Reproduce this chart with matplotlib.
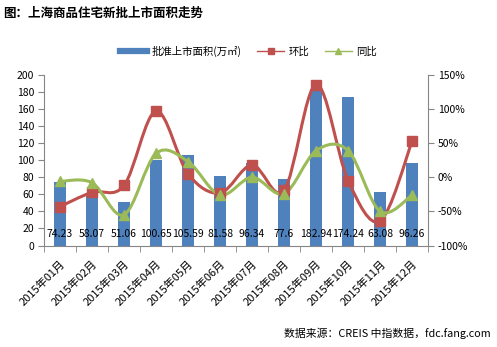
import numpy as np
import matplotlib
matplotlib.use("Agg")
import matplotlib.pyplot as plt
from matplotlib.path import Path
from matplotlib.patches import PathPatch
from matplotlib.lines import Line2D

plt.rcParams['font.family'] = ['Noto Sans CJK SC', 'DejaVu Sans']

months = ['2015年01月', '2015年02月', '2015年03月', '2015年04月', '2015年05月', '2015年06月',
          '2015年07月', '2015年08月', '2015年09月', '2015年10月', '2015年11月', '2015年12月']
area = [74.23, 58.07, 51.06, 100.65, 105.59, 81.58, 96.34, 77.6, 182.94, 174.24, 63.08, 96.26]
mom = [-43, -22, -12, 97, 5, -23, 18, -19, 136, -5, -64, 53]   # 环比 %
yoy = [-6, -8, -55, 35, 23, -26, 0, -24, 39, 39, -50, -26]     # 同比 %

BLUE = '#4F81BD'
RED = '#C0504D'
GREEN = '#9BBB59'


def smooth_path(xs, ys):
    # catmull-rom through the points, written as cubic bezier segments
    pts = np.column_stack([xs, ys]).astype(float)
    n = len(pts)
    verts = [pts[0]]
    codes = [Path.MOVETO]
    for i in range(n - 1):
        p0 = pts[i - 1] if i > 0 else pts[i]
        p1, p2 = pts[i], pts[i + 1]
        p3 = pts[i + 2] if i + 2 < n else pts[i + 1]
        c1 = p1 + (p2 - p0) / 6.0
        c2 = p2 - (p3 - p1) / 6.0
        verts += [c1, c2, p2]
        codes += [Path.CURVE4] * 3
    return Path(verts, codes)


fig = plt.figure(figsize=(4.97, 3.47), dpi=100)
ax = fig.add_axes([0.0885, 0.2925, 0.773, 0.4915])
ax2 = ax.twinx()

x = np.arange(len(months))
ax.bar(x, area, width=0.38, color=BLUE, zorder=2)
for xi, v in zip(x, area):
    ax.text(xi, 14, f'{v:g}', ha='center', va='center', fontsize=7.5, color='black', zorder=5)

for vals, color, marker, ms in [(mom, RED, 's', 6.5), (yoy, GREEN, '^', 7)]:
    ax2.add_patch(PathPatch(smooth_path(x, vals), facecolor='none', edgecolor=color,
                            lw=2.2, zorder=3))
    ax2.plot(x, vals, ls='none', marker=marker, ms=ms, color=color, zorder=4)

ax.set_xlim(-0.5, len(months) - 0.5)
ax.set_ylim(0, 200)
ax.set_yticks(range(0, 201, 20))
ax2.set_ylim(-100, 150)
ax2.set_yticks(range(-100, 151, 50))
ax2.set_yticklabels([f'{t}%' for t in range(-100, 151, 50)])

ax.set_xticks(x)
ax.set_xticklabels(months, rotation=45, ha='right', rotation_mode='anchor', fontsize=8)
ax.set_xticks(np.arange(-0.5, len(months)), minor=True)
ax.tick_params(axis='x', which='major', length=0, pad=9)
ax.tick_params(axis='x', which='minor', length=4, color='#868686')
ax.tick_params(axis='y', labelsize=7.5, length=4, color='#868686', pad=3)
ax2.tick_params(axis='y', labelsize=7.5, length=4, color='#868686', pad=3)

for a in (ax, ax2):
    a.spines['top'].set_visible(False)
    for s in ('left', 'right', 'bottom'):
        a.spines[s].set_color('#868686')
        a.spines[s].set_linewidth(0.8)
ax.spines['right'].set_visible(False)
ax2.spines['left'].set_visible(False)
ax2.spines['bottom'].set_visible(False)

fig.text(0.006, 0.962, '图：上海商品住宅新批上市面积走势', fontsize=9, fontweight='bold',
         ha='left', va='center')

handles = [Line2D([], [], color=BLUE, lw=4.5),
           Line2D([], [], color=RED, lw=1, marker='s', ms=5),
           Line2D([], [], color=GREEN, lw=1, marker='^', ms=5)]
fig.legend(handles, ['批准上市面积(万㎡)', '环比', '同比'], loc='center',
           bbox_to_anchor=(0.5, 0.853), ncol=3, frameon=False, fontsize=7.5,
           handlelength=2.6, columnspacing=1.5, handletextpad=0.4)

fig.text(0.987, 0.04, '数据来源：CREIS 中指数据，fdc.fang.com', fontsize=7.8,
         ha='right', va='center')

fig.savefig('out.png', dpi=100)
